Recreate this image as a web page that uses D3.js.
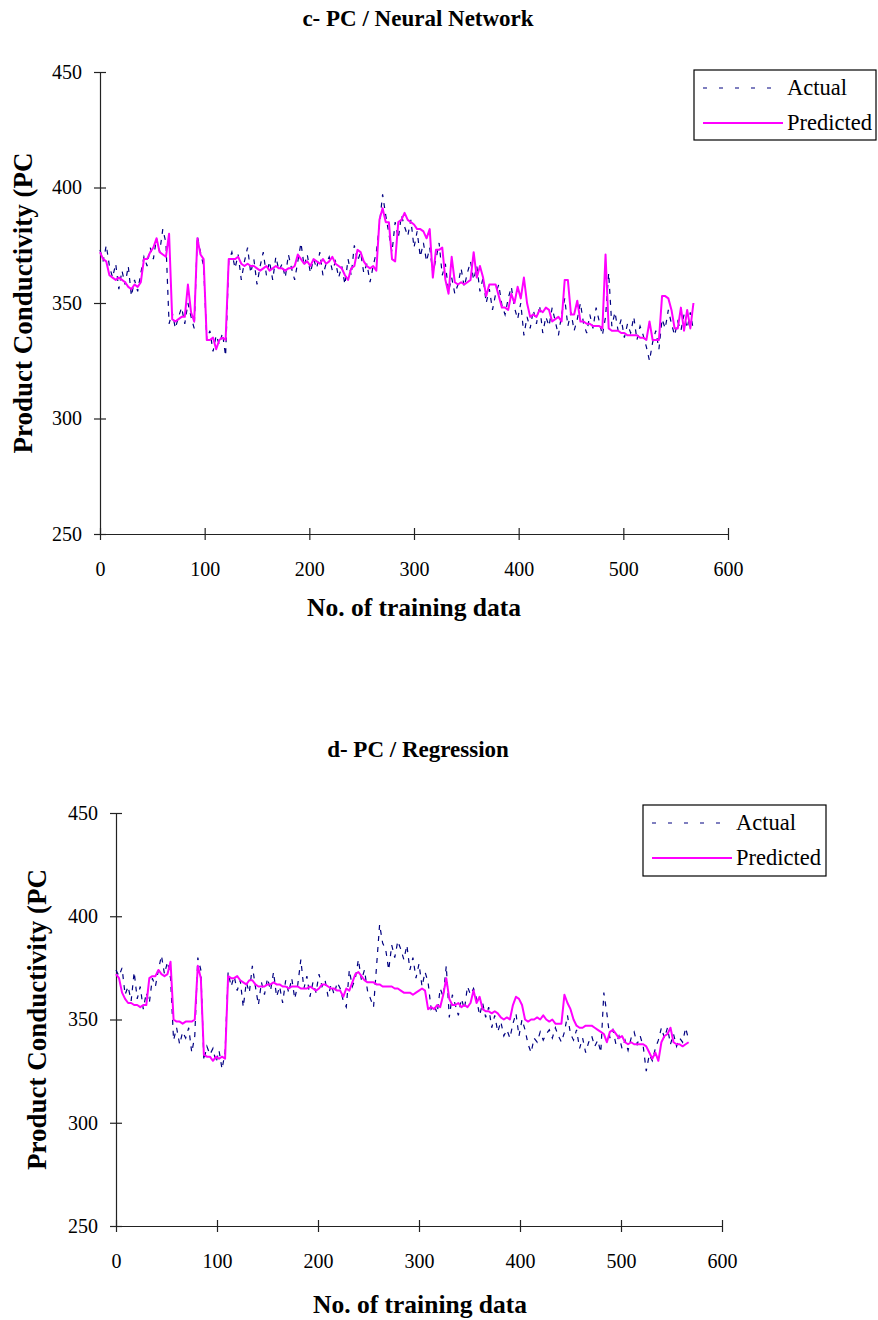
<!DOCTYPE html>
<html>
<head>
<meta charset="utf-8">
<script src="https://cdn.jsdelivr.net/npm/d3@7"></script>
<style>
  html, body { margin: 0; padding: 0; background: #fff; }
  svg { display: block; font-family: "Liberation Serif", "Times New Roman", serif; }
</style>
</head>
<body>
<svg id="fig" width="878" height="1320"></svg>
<script>
// Sample numbers (every 3rd training record, 0..567)
const sampleNo = d3.range(0, 570, 3);

// Measured product conductivity, neural-network training set
const actualNN = [
  373,368,375,366,361,367,356,364,358,366,
  353,360,355,363,370,366,374,369,378,372,
  382,376,341,346,339,344,348,341,350,344,
  339,379,372,366,334,338,329,336,332,337,
  327,368,372,365,371,360,368,374,363,369,
  358,366,372,362,368,360,370,364,367,361,
  371,365,360,368,376,366,371,363,369,365,
  372,362,367,370,364,368,361,366,358,369,
  362,375,368,372,363,367,359,366,372,384,
  397,388,380,372,385,378,388,383,379,386,
  374,381,370,376,368,374,363,369,376,362,
  367,355,361,354,358,365,357,363,368,360,
  366,355,361,350,356,347,354,358,349,345,
  352,357,348,343,350,336,344,339,347,341,
  349,337,344,340,348,342,336,345,352,340,
  346,338,343,350,341,337,345,339,348,342,
  336,344,363,340,346,338,343,335,341,337,
  344,334,340,336,331,325,333,338,330,343,
  339,347,341,336,342,338,345,339,346,338
];

// Neural network prediction
const nnPredPC = [
  372,369,368,362,361,360,361,360,359,357,
  356,358,357,359,369,369,372,374,378,372,
  371,370,380,343,342,343,344,344,358,346,
  342,378,371,369,334,334,335,330,334,335,
  334,369,369,369,370,367,366,367,366,366,
  365,364,365,366,364,365,366,365,365,364,
  365,365,366,371,369,367,368,366,369,368,
  367,369,367,368,370,367,366,365,362,360,
  365,366,373,372,368,366,365,366,364,386,
  391,385,385,369,368,385,386,389,386,385,
  384,382,382,381,378,382,361,373,373,374,
  360,354,370,359,358,359,358,359,360,372,
  361,366,361,353,358,358,358,353,348,348,
  347,354,350,357,352,361,350,344,345,344,
  347,346,348,347,342,343,344,342,360,360,
  345,345,351,342,342,341,341,340,340,340,
  339,371,339,338,338,338,337,337,336,336,
  336,336,335,335,334,342,334,334,334,353,
  353,352,347,339,339,348,338,347,339,350
];

// Measured product conductivity, regression training set
const actualReg = [
  374,371,375,362,366,359,373,360,366,355,
  363,358,370,366,374,381,372,378,370,340,
  346,338,344,341,346,334,342,380,374,330,
  337,333,336,329,335,326,334,373,366,371,
  364,369,356,368,363,376,366,357,368,362,
  370,364,373,361,366,358,369,363,370,360,
  367,379,365,371,361,368,363,372,366,369,
  361,367,362,368,365,359,356,374,366,370,
  379,369,374,364,360,356,376,396,387,384,
  374,386,380,388,384,379,386,374,380,370,
  377,366,373,368,355,357,353,365,361,376,
  351,362,357,352,360,355,366,362,365,360,
  352,358,351,356,346,352,344,349,342,345,
  341,348,353,342,350,345,338,334,341,339,
  344,340,343,345,341,346,342,339,344,352,
  343,340,345,336,341,334,339,342,337,340,
  334,363,353,341,345,338,342,336,340,335,
  341,344,338,342,337,325,333,330,336,340,
  346,341,346,338,343,337,341,339,346,340
];

// Regression prediction
const regPredPC = [
  372,370,363,360,358,358,357,357,356,357,
  357,370,371,371,374,372,371,372,378,350,
  349,349,348,349,349,349,350,376,370,333,
  332,332,330,332,331,332,331,371,370,370,
  371,369,368,367,369,369,367,366,366,366,
  367,367,368,367,367,366,366,365,366,366,
  366,365,365,365,366,365,364,365,367,367,
  366,365,365,364,364,361,365,364,368,372,
  373,371,369,368,368,368,367,367,366,366,
  366,366,365,365,364,363,363,363,362,363,
  364,365,364,355,356,355,357,356,362,370,
  360,357,357,358,356,357,356,358,364,358,
  361,355,354,354,353,354,353,351,350,351,
  350,357,361,360,357,350,349,350,350,351,
  350,352,350,349,350,348,348,348,362,358,
  355,350,347,346,346,347,347,347,346,345,
  344,343,339,344,345,343,341,342,339,338,
  339,338,338,338,338,337,334,331,334,330,
  339,342,343,346,339,338,338,337,338,339
];

// Axis ticks
const xTicks = [0, 100, 200, 300, 400, 500, 600];
const yTicks = [250, 300, 350, 400, 450];

const seriesNames = ["Actual", "Predicted"];

const panels = [
  {
    title: "c- PC / Neural Network",
    actual: actualNN,
    predicted: nnPredPC,
    left: 100, right: 728, top: 72, bottom: 534,
    titleY: 26, yTitleX: 32, xTitleX: 414, xTitleY: 616,
    legend: { x: 694, y: 70, w: 182, h: 70 }
  },
  {
    title: "d- PC / Regression",
    actual: actualReg,
    predicted: regPredPC,
    left: 116, right: 722, top: 813, bottom: 1226,
    titleY: 757, yTitleX: 46, xTitleX: 420, xTitleY: 1313,
    legend: { x: 643, y: 805, w: 183, h: 71 }
  }
];

const svg = d3.select("#fig");
const ACTUAL_COLOR = "#000080";
const PRED_COLOR = "#ff00ff";
const AXIS_COLOR = "#222";

panels.forEach(p => {
  const g = svg.append("g");
  const x = d3.scaleLinear().domain([0, 600]).range([p.left, p.right]);
  const y = d3.scaleLinear().domain([250, 450]).range([p.bottom, p.top]);

  // Title
  g.append("text")
    .attr("x", 418).attr("y", p.titleY)
    .attr("text-anchor", "middle")
    .attr("font-size", 23).attr("font-weight", "bold")
    .text(p.title);

  // Y axis
  const yAxis = g.append("g")
    .attr("transform", `translate(${p.left},0)`)
    .call(d3.axisLeft(y).tickValues(yTicks).tickSize(6).tickSizeOuter(0).tickPadding(12));
  yAxis.selectAll(".tick line").attr("x1", 6);

  // X axis
  const xAxis = g.append("g")
    .attr("transform", `translate(0,${p.bottom})`)
    .call(d3.axisBottom(x).tickValues(xTicks).tickSize(6).tickSizeOuter(0).tickPadding(22));
  xAxis.selectAll(".tick line").attr("y1", -6);

  [yAxis, xAxis].forEach(ax => {
    ax.select(".domain").attr("stroke", AXIS_COLOR).attr("stroke-width", 1.2);
    ax.selectAll(".tick line").attr("stroke", AXIS_COLOR).attr("stroke-width", 1.2);
    ax.selectAll(".tick text")
      .attr("font-size", 20)
      .attr("font-family", "'Liberation Serif', 'Times New Roman', serif")
      .attr("fill", "#000");
  });

  // Axis titles
  g.append("text")
    .attr("transform", `translate(${p.yTitleX},${(p.top + p.bottom) / 2}) rotate(-90)`)
    .attr("text-anchor", "middle")
    .attr("font-size", 27).attr("font-weight", "bold")
    .text("Product Conductivity (PC");

  g.append("text")
    .attr("x", p.xTitleX).attr("y", p.xTitleY)
    .attr("text-anchor", "middle")
    .attr("font-size", 25.5).attr("font-weight", "bold")
    .text("No. of training data");

  // Series
  const line = d3.line()
    .x((d, i) => x(sampleNo[i]))
    .y(d => y(d));

  g.append("path")
    .datum(p.actual)
    .attr("fill", "none")
    .attr("stroke", ACTUAL_COLOR)
    .attr("stroke-width", 1.2)
    .attr("stroke-dasharray", "5,6")
    .attr("d", line);

  g.append("path")
    .datum(p.predicted)
    .attr("fill", "none")
    .attr("stroke", PRED_COLOR)
    .attr("stroke-width", 2)
    .attr("stroke-linejoin", "round")
    .attr("d", line);

  // Legend
  const L = p.legend;
  const lg = g.append("g").attr("transform", `translate(${L.x},${L.y})`);
  lg.append("rect")
    .attr("width", L.w).attr("height", L.h)
    .attr("fill", "#fff").attr("stroke", "#000").attr("stroke-width", 1.2);
  seriesNames.forEach((name, k) => {
    const cy = 18 + k * 35;
    lg.append("line")
      .attr("x1", 9).attr("x2", 89)
      .attr("y1", cy).attr("y2", cy)
      .attr("stroke", k === 0 ? ACTUAL_COLOR : PRED_COLOR)
      .attr("stroke-width", k === 0 ? 1.2 : 2)
      .attr("stroke-dasharray", k === 0 ? "4,12" : null);
    lg.append("text")
      .attr("x", 93).attr("y", cy + 7)
      .attr("font-size", 22.5)
      .text(name);
  });
});
</script>
</body>
</html>
